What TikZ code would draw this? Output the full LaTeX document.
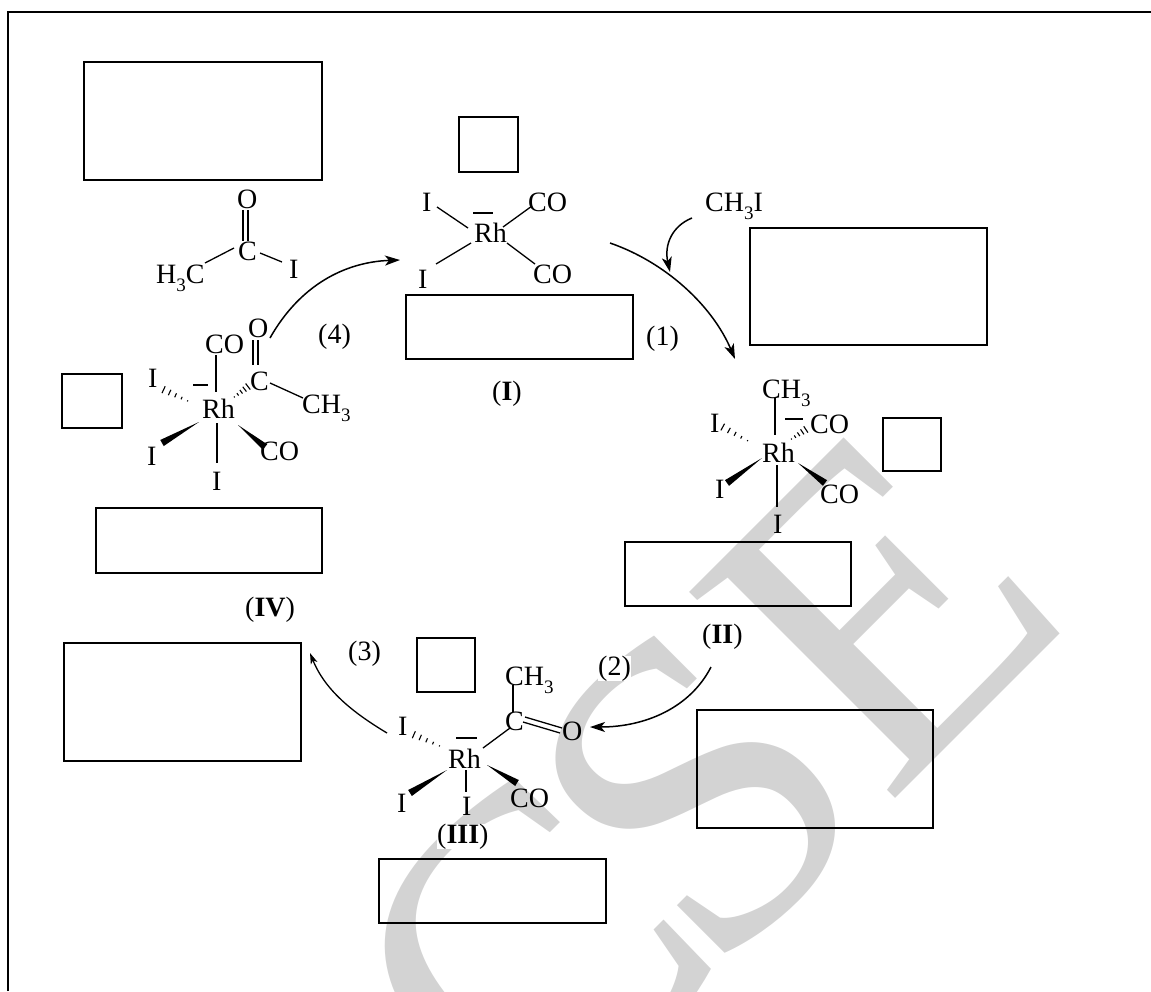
\documentclass[tikz,border=0pt]{standalone}
\usepackage{fontspec}
\setmainfont{Liberation Serif}
\usetikzlibrary{calc,arrows.meta}
\definecolor{wm}{RGB}{211,211,211}
\newcommand{\chsub}[1]{\raisebox{-8pt}{\fontsize{19}{19}\selectfont #1}}
\tikzset{
  lbl/.style={inner sep=0pt, anchor=base west, font=\fontsize{28}{31}\selectfont},
  boxnode/.style={draw, line width=1.8pt, anchor=north west, inner sep=0pt},
  bond/.style={line width=1.3pt},
  arr/.style={line width=1.5pt, -{Stealth[length=15pt,width=10pt,inset=4pt]}},
  arrsmall/.style={line width=1.3pt, -{Stealth[length=11pt,width=7pt,inset=3pt]}},
}
\newcommand{\hashbond}[2]{%
  \foreach \t/\w in {0.08/0.6,0.28/1.4,0.48/2.2,0.68/3.0,0.88/3.8}{%
    \draw[line width=1.1pt] ($(#1)!\t!(#2)!\w pt!90:(#2)$) -- ($(#1)!\t!(#2)!\w pt!-90:(#2)$);}}
\newcommand{\wedgebond}[2]{%
  \fill (#1) -- ($(#2)!3.5pt!90:(#1)$) -- ($(#2)!3.5pt!-90:(#1)$) -- cycle;}
\begin{document}
\begin{tikzpicture}[x=1pt,y=-1pt]
\useasboundingbox (0,0) rectangle (1151,991);
% watermark
\begin{scope}
  \clip (0,0) rectangle (1151,991);
  \node[inner sep=0pt, anchor=base west, rotate=45, text=wm,
        font=\fontsize{445}{445}\selectfont] (wmark) at (526,1168) {C\kern-35pt SE};
\end{scope}
% frame
\draw[line width=2pt] (8,991) -- (8,12) -- (1151,12);
% boxes
\node[boxnode, minimum width=238pt, minimum height=118pt] (b1) at (83,61) {};
\node[boxnode, minimum width=59pt, minimum height=55pt] (sqI) at (458,116) {};
\node[boxnode, minimum width=227pt, minimum height=64pt] (boxI) at (405,294) {};
\node[boxnode, minimum width=237pt, minimum height=117pt] (boxR1) at (749,227) {};
\node[boxnode, minimum width=58pt, minimum height=53pt] (sqII) at (882,417) {};
\node[boxnode, minimum width=226pt, minimum height=64pt] (boxII) at (624,541) {};
\node[boxnode, minimum width=236pt, minimum height=118pt] (boxR2) at (696,709) {};
\node[boxnode, minimum width=227pt, minimum height=64pt] (boxIII) at (378,858) {};
\node[boxnode, minimum width=58pt, minimum height=54pt] (sqIII) at (416,637) {};
\node[boxnode, minimum width=237pt, minimum height=118pt] (boxL) at (63,642) {};
\node[boxnode, minimum width=226pt, minimum height=65pt] (boxIV) at (95,507) {};
\node[boxnode, minimum width=60pt, minimum height=54pt] (sqIV) at (61,373) {};

% ---- complex I
\node[lbl] (i1a) at (422,211) {I};
\node[lbl] (rh1) at (474,242) {Rh};
\node[lbl] (co1a) at (528,211) {CO};
\node[lbl] (i1b) at (418,288) {I};
\node[lbl] (co1b) at (533,283) {CO};
\draw[bond] (473,213) -- (493,213);
\draw[bond] (437,207) -- (468,228);
\draw[bond] (503,227) -- (532,206);
\draw[bond] (471,243) -- (436,264);
\draw[bond] (507,243) -- (535,264);

% ---- acetyl iodide
\node[lbl] (oA) at (237,208) {O};
\node[lbl] (cA) at (238,260) {C};
\node[lbl] (h3c) at (156,283) {H\chsub{3}C};
\node[lbl] (iA) at (289,278) {I};
\draw[bond] (243,210) -- (243,241);
\draw[bond] (248,210) -- (248,241);
\draw[bond] (205,263) -- (234,248);
\draw[bond] (260,253) -- (282,262);

% ---- complex IV
\node[lbl] (co4a) at (205,353) {CO};
\node[lbl] (o4) at (248,337) {O};
\node[lbl] (c4) at (250,390) {C};
\node[lbl] (ch4) at (302,413) {CH\chsub{3}};
\node[lbl] (rh4) at (202,418) {Rh};
\node[lbl] (i4a) at (148,387) {I};
\node[lbl] (i4b) at (147,465) {I};
\node[lbl] (co4b) at (260,460) {CO};
\node[lbl] (i4c) at (212,490) {I};
\draw[bond] (193,385) -- (208,385);
\draw[bond] (216,355) -- (216,392);
\draw[bond] (253,340) -- (253,365);
\draw[bond] (258,340) -- (258,365);
\draw[bond] (270,383) -- (303,398);
\draw[bond] (217,423) -- (217,463);
\hashbond{190,402}{160,388}
\hashbond{233,398}{250,385}
\wedgebond{199,422}{162,443}
\wedgebond{238,425}{265,447}

% ---- complex II
\node[lbl] (ch2) at (762,398) {CH\chsub{3}};
\node[lbl] (co2a) at (810,433) {CO};
\node[lbl] (i2a) at (710,432) {I};
\node[lbl] (rh2) at (762,462) {Rh};
\node[lbl] (i2b) at (715,498) {I};
\node[lbl] (co2b) at (820,503) {CO};
\node[lbl] (i2c) at (773,533) {I};
\draw[bond] (775,398) -- (775,435);
\draw[bond] (785,419) -- (803,419);
\draw[bond] (777,465) -- (777,507);
\hashbond{750,442}{719,425}
\hashbond{790,440}{808,428}
\wedgebond{762,458}{727,483}
\wedgebond{798,463}{825,483}

% ---- complex III
\node[lbl] (ch3) at (505,685) {CH\chsub{3}};
\node[lbl] (c3) at (505,730) {C};
\node[lbl] (o3) at (562,740) {O};
\node[lbl] (i3a) at (398,735) {I};
\node[lbl] (rh3) at (448,768) {Rh};
\node[lbl] (i3b) at (397,812) {I};
\node[lbl] (i3c) at (462,815) {I};
\node[lbl] (co3) at (510,807) {CO};
\draw[bond] (513,685) -- (513,712);
\draw[bond] (525,717) -- (562,728);
\draw[bond] (523,722) -- (560,733);
\draw[bond] (456,738) -- (477,738);
\draw[bond] (483,748) -- (510,728);
\draw[bond] (466,770) -- (466,792);
\hashbond{442,747}{410,733}
\wedgebond{447,770}{410,793}
\wedgebond{487,765}{517,783}

% ---- labels
\node[lbl] (labI) at (492,400) {(\textbf{I})};
\node[lbl] (labIV) at (245,616) {(\textbf{IV})};
\node[lbl] (labII) at (702,643) {(\textbf{II})};
\node[lbl, fill=white] (labIII) at (437,843) {(\textbf{III})};
\node[lbl] (s1) at (646,345) {(1)};
\node[lbl, fill=white] (s2) at (598,675) {(2)};
\node[lbl] (s3) at (348,660) {(3)};
\node[lbl] (s4) at (318,343) {(4)};
\node[lbl] (mei) at (705,211) {CH\chsub{3}I};

% ---- arrows
\coordinate (a4s) at (270,338); \coordinate (a4e) at (400,260);
\coordinate (a1s) at (610,243); \coordinate (a1e) at (735,359);
\coordinate (ams) at (692,218); \coordinate (ame) at (670,272);
\coordinate (a2s) at (711,667); \coordinate (a2e) at (590,727);
\coordinate (a3s) at (387,733); \coordinate (a3e) at (310,653);
\draw[arr] (a4s) .. controls (300,285) and (345,262) .. (a4e);
\draw[arr] (a1s) .. controls (665,262) and (712,305) .. (a1e);
\draw[arr] (ams) .. controls (672,226) and (664,245) .. (ame);
\draw[arr] (a2s) .. controls (690,708) and (645,727) .. (a2e);
\draw[arrsmall] (a3s) .. controls (352,712) and (325,690) .. (a3e);
\end{tikzpicture}
\end{document}
